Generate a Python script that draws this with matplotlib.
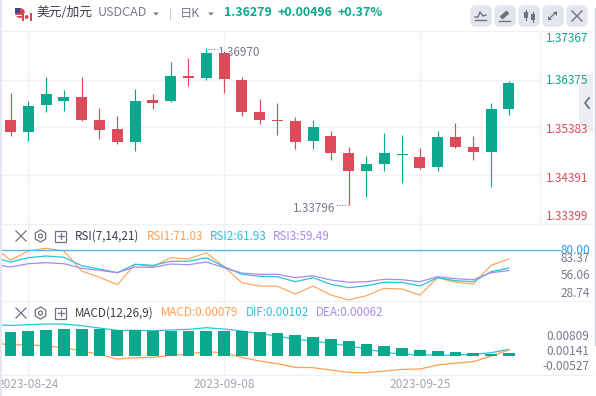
import matplotlib
matplotlib.use('Agg')
import matplotlib.pyplot as plt
from matplotlib.patches import FancyBboxPatch, Polygon, Rectangle, RegularPolygon, Circle

plt.rcParams['font.family'] = ['Noto Sans CJK SC', 'DejaVu Sans']

opens = [1.35533, 1.35283, 1.35845, 1.35928, 1.36011, 1.35533, 1.35345, 1.35075, 1.35949, 1.35928,
         1.36448, 1.36406, 1.36926, 1.36365, 1.35699, 1.35533, 1.35512, 1.35096, 1.35200, 1.34846,
         1.34472, 1.34617, 1.34805, 1.34763, 1.34555, 1.35179, 1.34971, 1.34867, 1.35761]
highs = [1.36094, 1.35928, 1.36427, 1.36157, 1.36427, 1.35782, 1.35616, 1.36177, 1.36073, 1.36739,
         1.36822, 1.37030, 1.36968, 1.36427, 1.35969, 1.35886, 1.35595, 1.35533, 1.35304, 1.34971,
         1.34784, 1.35262, 1.35221, 1.34950, 1.35304, 1.35470, 1.35200, 1.35886, 1.36344]
lows = [1.35200, 1.35096, 1.35699, 1.35720, 1.35512, 1.35137, 1.35033, 1.34888, 1.35761, 1.35907,
        1.36240, 1.36365, 1.36094, 1.35616, 1.35449, 1.35221, 1.34929, 1.34929, 1.34701, 1.33765,
        1.33931, 1.34472, 1.34222, 1.34513, 1.34472, 1.34950, 1.34701, 1.34139, 1.35637]
closes = [1.35283, 1.35824, 1.36073, 1.36011, 1.35533, 1.35325, 1.35075, 1.35928, 1.35886, 1.36448,
          1.36406, 1.36926, 1.36385, 1.35699, 1.35533, 1.35512, 1.35075, 1.35387, 1.34846, 1.34472,
          1.34617, 1.34846, 1.34825, 1.34534, 1.35179, 1.34971, 1.34867, 1.35761, 1.36302]

# the indicator lines start one day before the first candle
rsi1 = [84, 70, 79, 81.7, 79, 59, 52.7, 45.3, 65.7, 63.3, 72.3, 71, 77.3, 63.3, 47.3, 44, 43.7, 36, 44, 35,
        30, 34.3, 41.7, 41, 35, 52.3, 47.7, 46, 64.7, 71.03]
rsi2 = [72.7, 68, 72.3, 74, 72.7, 64.3, 61, 57.3, 65.7, 64.7, 68.7, 68.7, 72.3, 63.3, 55.7, 53.7, 53.3, 48.3,
        52.3, 45.7, 42.3, 44.3, 47.7, 47.7, 44, 52.3, 49.3, 48.3, 58.3, 61.93]
rsi3 = [65.7, 63, 66.3, 67.3, 66.3, 61.7, 59.7, 57.3, 63, 62.7, 66, 65.3, 68, 62.3, 57, 55.7, 55.7, 52.3,
        54.3, 50, 47.7, 48.3, 50.7, 50.3, 48.3, 53.3, 51.3, 50.3, 57.3, 59.49]

macd_bars = [0.00696, 0.00725, 0.00755, 0.00784, 0.00784, 0.00784, 0.00755, 0.00755, 0.00735, 0.00725,
             0.00725, 0.00725, 0.00725, 0.00725, 0.00696, 0.00666, 0.00608, 0.00549, 0.00490, 0.00431,
             0.00343, 0.00284, 0.00225, 0.00167, 0.00137, 0.00108, 0.00078, 0.00049, 0.00079]
macd_cyan = [0.00902, 0.00892, 0.00911, 0.00931, 0.00931, 0.00882, 0.00813, 0.00745, 0.00745, 0.00735,
             0.00755, 0.00774, 0.00823, 0.00784, 0.00725, 0.00647, 0.00578, 0.00480, 0.00441, 0.00353,
             0.00294, 0.00196, 0.00098, 0.00049, 0.00020, 0.00020, 0.00020, 0.00039, 0.00088, 0.00186]
macd_orange = [0.00372, 0.00323, 0.00314, 0.00294, 0.00235, 0.00137, 0.00039, -0.00098, -0.00059, -0.00049,
               0.00010, 0.00049, 0.00118, 0.00088, -0.00049, -0.00157, -0.00235, -0.00343, -0.00353, -0.00421,
               -0.00490, -0.00500, -0.00451, -0.00402, -0.00392, -0.00274, -0.00216, -0.00176, -0.00010, 0.00167]

price_ticks = [1.36375, 1.35383, 1.34391]
date_idx = [1, 12, 23]
date_labels = ['2023-08-24', '2023-09-08', '2023-09-25']

GREEN = '#0aa88c'
RED = '#dd4b5a'
ORANGE = '#ff9f4f'
CYAN = '#2bc4dc'
PURPLE = '#a98bea'
GRID = '#f1f2f6'
GRAY = '#767b8c'
ICON = '#6d7284'

W, H = 596, 396
fig = plt.figure(figsize=(W / 100, H / 100), dpi=100)
fig.patch.set_facecolor('white')


def panel(top, bottom, ylim):
    ax = fig.add_axes([2 / W, 1 - bottom / H, 538 / W, (bottom - top) / H])
    ax.set_xlim(-0.478, 29.75)
    ax.set_ylim(*ylim)
    ax.set_xticks(date_idx)
    ax.set_xticklabels([])
    ax.tick_params(length=0)
    ax.grid(True, color=GRID, lw=1)
    ax.set_axisbelow(True)
    for s in ax.spines.values():
        s.set_visible(False)
    ax.patch.set_alpha(0)
    return ax


ax = panel(31, 224, (1.33369, 1.37384))
ax.set_yticks(price_ticks)
ax.set_yticklabels([])
xs = list(range(len(opens)))
for i in xs:
    col = GREEN if closes[i] >= opens[i] else RED
    ax.plot([i, i], [lows[i], highs[i]], color=col, lw=0.85, solid_capstyle='butt', zorder=3)
    ax.bar(i, abs(closes[i] - opens[i]), bottom=min(opens[i], closes[i]), width=0.62, color=col, zorder=4)

ax2 = panel(224, 301, (29, 106))
ax2.set_yticks([])
xl = list(range(-1, len(opens)))
ax2.plot(xl, rsi1, color=ORANGE, lw=0.8, zorder=3)
ax2.plot(xl, rsi2, color=CYAN, lw=0.9, zorder=3)
ax2.plot(xl, rsi3, color=PURPLE, lw=0.9, zorder=3)
ax2.plot([-0.6, 30.87], [80, 80], color='#5ab4f5', lw=1.0, clip_on=False, zorder=4)

ax3 = panel(301, 375, (-0.00567, 0.01608))
ax3.set_yticks([])
ax3.plot(xl, macd_cyan, color=CYAN, lw=0.9, zorder=2)
ax3.plot(xl, macd_orange, color=ORANGE, lw=0.9, zorder=2)
ax3.bar(xs, macd_bars, width=0.66, color=GREEN, zorder=3)

# everything around the plots, in pixel coordinates
ov = fig.add_axes([0, 0, 1, 1])
ov.set_xlim(0, W)
ov.set_ylim(H, 0)
ov.axis('off')
ov.patch.set_alpha(0)

ov.add_patch(Rectangle((0, 0), 1.5, H, color='#e4e7f0', lw=0))
for y in [31, 224, 301, 375]:
    ov.plot([2, 593], [y, y], color='#eff1f5', lw=1)
ov.plot([539.5, 539.5], [31, 224], color='#eff1f5', lw=1)
ov.plot([594.5, 594.5], [8, 345], color='#c9ccd6', lw=0.8)

# flags
ov.add_patch(Circle((20, 13), 5, color='#d8434e', lw=0))
ov.add_patch(Rectangle((15, 8), 5, 5, color='#3e4a86', lw=0))
ov.plot([15, 25], [14.5, 14.5], color='white', lw=0.8)
ov.add_patch(Rectangle((22, 13), 9.5, 8, color='white', lw=0, zorder=3))
ov.add_patch(Rectangle((22, 13), 2, 8, color='#d8434e', lw=0, zorder=3))
ov.add_patch(Rectangle((29.5, 13), 2, 8, color='#d8434e', lw=0, zorder=3))
ov.add_patch(Circle((26.7, 17), 1.9, color='#d8434e', lw=0, zorder=4))

ov.text(36, 13, '美元/加元', fontsize=9.2, color='#3b3e4a', va='center')
ov.text(98, 13, 'USDCAD', fontsize=9.0, color=GRAY, va='center')
ov.add_patch(Polygon([[153, 12.5], [159, 12.5], [156, 15.5]], color=GRAY, lw=0))
ov.plot([169.5, 169.5], [8, 19], color='#c9ccd6', lw=0.8)
ov.text(180, 13, '日K', fontsize=8.8, color=GRAY, va='center')
ov.add_patch(Polygon([[208, 12.5], [214, 12.5], [211, 15.5]], color=GRAY, lw=0))
ov.text(224, 13, '1.36279', fontsize=8.9, color=GREEN, va='center', fontweight='bold')
ov.text(277, 13, '+0.00496', fontsize=8.9, color=GREEN, va='center', fontweight='bold')
ov.text(337, 13, '+0.37%', fontsize=8.9, color=GREEN, va='center', fontweight='bold')

# toolbar buttons
for bx in [471, 495, 519, 543, 567]:
    ov.add_patch(FancyBboxPatch((bx + 2, 8), 16, 16, boxstyle='round,pad=0,rounding_size=3',
                                mutation_scale=1, fc='#e4e6ee', ec='#e4e6ee', lw=4))
ov.plot([475, 478, 480, 483, 486], [17, 17, 12, 16, 15], color=ICON, lw=1)
ov.plot([475, 486], [20, 20], color=ICON, lw=1)
ov.plot([501, 508], [18, 12], color=ICON, lw=3, solid_capstyle='butt')
ov.plot([499, 510], [20.5, 20.5], color=ICON, lw=1)
ov.plot([526, 526], [10, 20], color=ICON, lw=0.8)
ov.add_patch(Rectangle((524, 12), 4, 6, color=ICON, lw=0))
ov.plot([533, 533], [12, 22], color=ICON, lw=0.8)
ov.add_patch(Rectangle((531, 14), 4, 6, color=ICON, lw=0))
ov.plot([549, 556], [19, 12], color=ICON, lw=0.9)
ov.add_patch(Polygon([[553, 11.5], [557, 11.5], [557, 15.5]], color=ICON, lw=0))
ov.add_patch(Polygon([[548, 15.5], [548, 19.5], [552, 19.5]], color=ICON, lw=0))
ov.plot([572, 582], [11, 21], color=ICON, lw=1)
ov.plot([572, 582], [21, 11], color=ICON, lw=1)

# collapsed side tab
ov.add_patch(Polygon([[593, 72], [584, 78], [579, 84], [579, 122], [584, 128], [593, 133]],
                     color='#eceef2', lw=0))
ov.plot([589, 585, 589], [98, 103, 108], color=ICON, lw=1.3)

# price scale
ov.text(588, 39, '1.37367', fontsize=8.5, color=GREEN, ha='right', va='center')
ov.text(588, 81, '1.36375', fontsize=8.5, color=GREEN, ha='right', va='center')
ov.text(588, 129.5, '1.35383', fontsize=8.5, color=RED, ha='right', va='center')
ov.text(588, 178, '1.34391', fontsize=8.5, color=RED, ha='right', va='center')
ov.text(588, 216, '1.33399', fontsize=8.5, color=RED, ha='right', va='center')

# high / low labels
ov.text(218, 52.5, '1.36970', fontsize=8.5, color=GRAY, va='center')
ov.plot([208, 217], [48.5, 48.5], color=GRAY, lw=0.8, ls=(0, (1, 1.5)))
ov.text(293, 208.5, '1.33796', fontsize=8.5, color=GRAY, va='center')
ov.plot([336, 348], [205, 205], color=GRAY, lw=0.8, ls=(0, (1, 1.5)))


def header_icons(y):
    ov.plot([16, 26], [y - 5, y + 5], color=ICON, lw=0.9)
    ov.plot([16, 26], [y + 5, y - 5], color=ICON, lw=0.9)
    ov.add_patch(RegularPolygon((40.5, y), 6, radius=6, fill=False, ec=ICON, lw=0.9))
    ov.add_patch(Circle((40.5, y), 2, fill=False, ec=ICON, lw=0.9))
    ov.add_patch(Rectangle((55, y - 5.5), 11, 11, fill=False, ec=ICON, lw=0.9))
    ov.plot([57.5, 63.5], [y, y], color=ICON, lw=0.9)
    ov.plot([60.5, 60.5], [y - 3, y + 3], color=ICON, lw=0.9)


# RSI header
header_icons(236)
ov.text(75, 236, 'RSI(7,14,21)', fontsize=8.4, color='#3b3e4a', va='center')
ov.text(147, 236, 'RSI1:71.03', fontsize=8.4, color=ORANGE, va='center')
ov.text(210, 236, 'RSI2:61.93', fontsize=8.4, color=CYAN, va='center')
ov.text(273, 236, 'RSI3:59.49', fontsize=8.4, color=PURPLE, va='center')
ov.text(590, 250, '80.00', fontsize=8.5, color='#2a9cf2', ha='right', va='center')
ov.text(590, 259, '83.37', fontsize=8.5, color=GRAY, ha='right', va='center')
ov.text(590, 275.5, '56.06', fontsize=8.5, color=GRAY, ha='right', va='center')
ov.text(590, 293.5, '28.74', fontsize=8.5, color=GRAY, ha='right', va='center')

# MACD header
header_icons(313)
ov.text(75, 313, 'MACD(12,26,9)', fontsize=8.4, color='#3b3e4a', va='center')
ov.text(161, 313, 'MACD:0.00079', fontsize=8.4, color=ORANGE, va='center')
ov.text(246, 313, 'DIF:0.00102', fontsize=8.4, color=CYAN, va='center')
ov.text(316, 313, 'DEA:0.00062', fontsize=8.4, color=PURPLE, va='center')
ov.text(589, 336, '0.00809', fontsize=8.5, color=GRAY, ha='right', va='center')
ov.text(589, 351.5, '0.00141', fontsize=8.5, color=GRAY, ha='right', va='center')
ov.text(589, 367, '-0.00527', fontsize=8.5, color=GRAY, ha='right', va='center')

# date axis, centred under the grid lines
ax3.set_xticklabels(date_labels, fontsize=8.6, color='#a3a7b5')
ax3.tick_params(axis='x', pad=2.5, length=0)

fig.savefig('out.png', dpi=100)
